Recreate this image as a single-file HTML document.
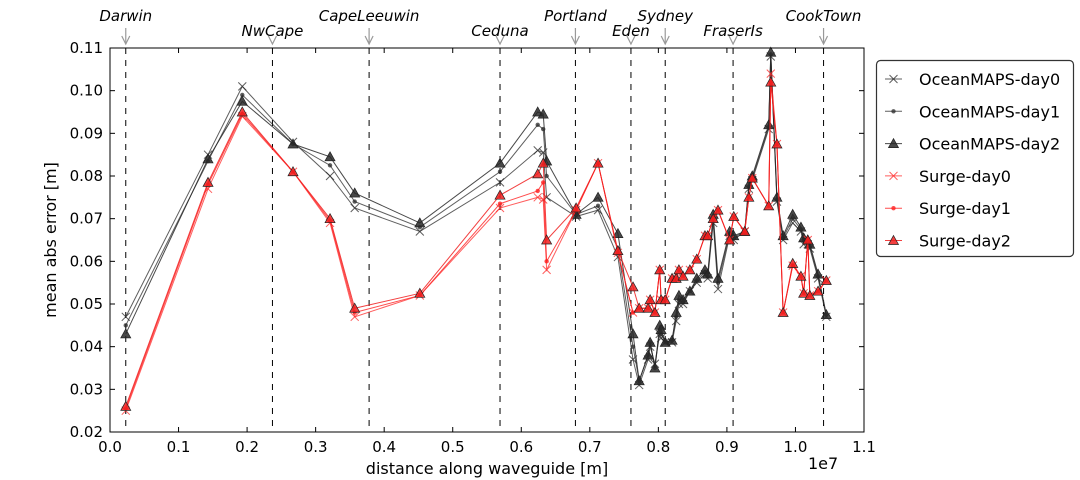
<!DOCTYPE html>
<html><head><meta charset="utf-8"><style>
body{margin:0;background:#fff;}
svg{display:block;font-family:"DejaVu Sans","Liberation Sans",sans-serif;}
</style></head><body>
<svg id="chart" width="1080" height="480" viewBox="0 0 1080 480">
<rect width="1080" height="480" fill="#fff"/>
<g id="grid"></g><g id="series"></g><g id="axes"></g><g id="legend"></g>
</svg>
<script>
const xs=[0.23,1.43,1.93,2.67,3.21,3.57,4.52,5.69,6.24,6.32,6.37,6.80,7.12,7.41,7.63,7.72,7.85,7.88,7.95,8.02,8.04,8.10,8.20,8.26,8.30,8.36,8.46,8.56,8.68,8.72,8.80,8.87,9.04,9.10,9.26,9.32,9.37,9.61,9.64,9.73,9.82,9.96,10.08,10.12,10.18,10.21,10.33,10.45];
const om0=[0.047,0.085,0.101,0.088,0.080,0.0725,0.067,0.0785,0.086,0.0855,0.075,0.0705,0.072,0.061,0.037,0.031,0.037,0.040,0.036,0.043,0.042,0.041,0.041,0.046,0.050,0.050,0.053,0.055,0.057,0.056,0.069,0.0535,0.066,0.065,0.067,0.077,0.079,0.091,0.108,0.074,0.065,0.069,0.067,0.064,0.064,0.063,0.056,0.047];
const om1=[0.045,0.0835,0.099,0.0875,0.0825,0.074,0.068,0.081,0.092,0.091,0.080,0.071,0.073,0.063,0.040,0.032,0.038,0.041,0.035,0.044,0.043,0.041,0.0415,0.047,0.051,0.0505,0.053,0.0555,0.0575,0.0565,0.070,0.055,0.0665,0.0655,0.067,0.0775,0.0795,0.0915,0.1085,0.0745,0.0655,0.070,0.0675,0.065,0.0645,0.0635,0.0565,0.0475];
const om2=[0.043,0.084,0.0975,0.0875,0.0845,0.076,0.069,0.083,0.095,0.0945,0.0835,0.071,0.075,0.0665,0.043,0.032,0.038,0.041,0.035,0.045,0.044,0.041,0.0415,0.048,0.052,0.051,0.053,0.056,0.058,0.057,0.071,0.056,0.067,0.066,0.067,0.078,0.080,0.092,0.109,0.075,0.066,0.071,0.068,0.0655,0.065,0.064,0.057,0.0475];
const sg0=[0.025,0.077,0.094,0.081,0.069,0.047,0.052,0.0725,0.075,0.0745,0.058,0.072,0.083,0.062,0.048,0.049,0.049,0.051,0.048,0.058,0.051,0.051,0.056,0.056,0.058,0.0565,0.058,0.0605,0.066,0.066,0.070,0.072,0.065,0.0705,0.067,0.075,0.0795,0.073,0.104,0.0875,0.048,0.059,0.0565,0.0525,0.065,0.052,0.053,0.0555];
const sg1=[0.0255,0.078,0.0945,0.081,0.0695,0.048,0.052,0.0735,0.0765,0.0785,0.060,0.072,0.083,0.062,0.048,0.049,0.049,0.051,0.048,0.058,0.051,0.051,0.056,0.056,0.058,0.0565,0.058,0.0605,0.066,0.066,0.070,0.072,0.065,0.0705,0.067,0.075,0.0795,0.073,0.102,0.0875,0.048,0.059,0.0565,0.0525,0.065,0.052,0.053,0.0555];
const sg2=[0.026,0.0785,0.095,0.081,0.070,0.049,0.0525,0.0755,0.0805,0.083,0.065,0.0725,0.083,0.0625,0.054,0.049,0.049,0.051,0.048,0.058,0.051,0.051,0.056,0.056,0.058,0.0565,0.058,0.0605,0.066,0.066,0.070,0.072,0.065,0.0705,0.067,0.075,0.0795,0.073,0.102,0.0875,0.048,0.0595,0.0565,0.0525,0.065,0.052,0.053,0.0555];
const stationNames=["Darwin","NwCape","CapeLeeuwin","Ceduna","Portland","Eden","Sydney","FraserIs","CookTown"];
const stationPos=[0.23,2.37,3.78,5.69,6.79,7.60,8.10,9.09,10.41];
const xTicks=[0,0.1,0.2,0.3,0.4,0.5,0.6,0.7,0.8,0.9,1.0,1.1];
const yTicks=[0.02,0.03,0.04,0.05,0.06,0.07,0.08,0.09,0.10,0.11];

const L=110,R=864,T=48,B=432;
const X=v=>L+v/11*(R-L);
const Y=v=>B-(v-0.02)/0.09*(B-T);
const NS="http://www.w3.org/2000/svg";
function mk(tag,attrs,parent){const e=document.createElementNS(NS,tag);for(const k in attrs)e.setAttribute(k,attrs[k]);parent.appendChild(e);return e;}
const grid=document.getElementById('grid'),ser=document.getElementById('series'),ax=document.getElementById('axes'),leg=document.getElementById('legend');

stationNames.forEach((n,i)=>{
 const x=X(stationPos[i]);const high=i%2===0;
 const ln=mk('line',{x1:x,y1:T,x2:x,y2:B,stroke:'#000','stroke-dasharray':'6,6','stroke-width':1},grid);
 
 
 const ty=high?21:36;
 const t=mk('text',{x:x,y:ty,'text-anchor':'middle','font-size':15,'font-style':'italic',fill:'#000'},ax);
 t.textContent=n;
 
 
 const y0=high?28:43;
 mk('line',{x1:x,y1:y0,x2:x,y2:43,stroke:'#999','stroke-width':1.2},ax);
 mk('path',{d:`M${x-4},${36} L${x},${44} L${x+4},${36}`,fill:'none',stroke:'#999','stroke-width':1.2},ax);
});

function marker(type,x,y,col,g){
 if(type==='x'){mk('path',{d:`M${x-4},${y-4}L${x+4},${y+4}M${x-4},${y+4}L${x+4},${y-4}`,stroke:col,'stroke-width':1,fill:'none'},g);}
 else if(type==='o'){mk('circle',{cx:x,cy:y,r:2.2,fill:col},g);}
 else {mk('path',{d:`M${x},${y-5}L${x+5},${y+4}L${x-5},${y+4}Z`,fill:col,stroke:'#222','stroke-width':0.7},g);}
}
const series=[
 {name:'OceanMAPS-day0',v:om0,c:'rgba(40,40,40,0.75)',m:'x',key:'oceanmaps-day0'},
 {name:'OceanMAPS-day1',v:om1,c:'rgba(40,40,40,0.75)',m:'o',key:'oceanmaps-day1'},
 {name:'OceanMAPS-day2',v:om2,c:'rgba(40,40,40,0.85)',m:'t',key:'oceanmaps-day2'},
 {name:'Surge-day0',v:sg0,c:'rgba(255,40,40,0.75)',m:'x',key:'surge-day0'},
 {name:'Surge-day1',v:sg1,c:'rgba(255,30,30,0.8)',m:'o',key:'surge-day1'},
 {name:'Surge-day2',v:sg2,c:'rgba(240,30,30,0.85)',m:'t',key:'surge-day2'}
];
series.forEach(s=>{
 const g=mk('g',{},ser);
 
 
 mk('polyline',{points:xs.map((x,i)=>X(x)+','+Y(s.v[i])).join(' '),fill:'none',stroke:s.c,'stroke-width':1},g);
 xs.forEach((x,i)=>marker(s.m,X(x),Y(s.v[i]),s.c,g));
});

// axes frame
const fr=mk('rect',{x:L,y:T,width:R-L,height:B-T,fill:'none',stroke:'#000','stroke-width':1},ax);


xTicks.forEach(t=>{const x=X(t*10);
 mk('line',{x1:x,y1:B,x2:x,y2:B-5,stroke:'#000'},ax);mk('line',{x1:x,y1:T,x2:x,y2:T+5,stroke:'#000'},ax);
 const tx=mk('text',{x:x,y:B+20,'text-anchor':'middle','font-size':15},ax);tx.textContent=t.toFixed(1);
 
 
});
yTicks.forEach(t=>{const y=Y(t);
 mk('line',{x1:L,y1:y,x2:L+5,y2:y,stroke:'#000'},ax);mk('line',{x1:R,y1:y,x2:R-5,y2:y,stroke:'#000'},ax);
 const ty=mk('text',{x:L-7,y:y+5,'text-anchor':'end','font-size':15},ax);ty.textContent=t.toFixed(2);
 
 
});
</script>
<svg width="0" height="0"></svg>
<script>
const ax2=document.getElementById('axes');
const xt=mk('text',{x:487,y:474,'text-anchor':'middle','font-size':16},ax2);xt.textContent='distance along waveguide [m]';


const ex=mk('text',{x:808,y:469,'font-size':16},ax2);ex.textContent='1e7';


const yt=mk('text',{x:0,y:0,'text-anchor':'middle','font-size':16,transform:'translate(56,240) rotate(-90)'},ax2);yt.textContent='mean abs error [m]';


const lg=document.getElementById('legend');
const box=mk('rect',{x:876.5,y:60.5,width:197,height:196,rx:4,fill:'#fff',stroke:'#333','stroke-width':1.2},lg);


series.forEach((s,i)=>{const y=79+i*32.3;
 const g=mk('g',{},lg);
 
 
 mk('line',{x1:885,y1:y,x2:902,y2:y,stroke:s.c},g);marker(s.m,893.5,y,s.c,g);
 const t=mk('text',{x:919,y:y+6,'font-size':16},g);t.textContent=s.name;});
</script>
</body></html>
